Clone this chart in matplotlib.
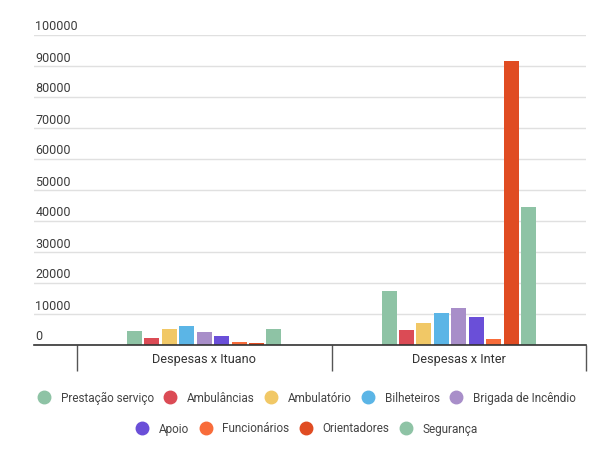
import matplotlib.pyplot as plt
import numpy as np
from matplotlib.lines import Line2D
import matplotlib.transforms as mtransforms

plt.rcParams['font.family'] = ['Roboto', 'DejaVu Sans']

categories = ['Despesas x Ituano', 'Despesas x Inter']
series = ['Prestação serviço', 'Ambulâncias', 'Ambulatório', 'Bilheteiros',
          'Brigada de Incêndio', 'Apoio', 'Funcionários', 'Orientadores', 'Segurança']
ituano = [4600, 2150, 5150, 6100, 4300, 3000, 1070, 650, 5250]
inter = [17500, 4700, 7000, 10200, 12000, 8900, 1900, 91700, 44600]
colors = ['#8ec3a5', '#db4b55', '#f1c866', '#5bb5e6', '#a88ec9',
          '#6a4fd8', '#f86c3a', '#e04c22', '#8ec3a5']
yticks = [0, 10000, 20000, 30000, 40000, 50000, 60000, 70000, 80000, 90000, 100000]

W, H = 614, 450
fig = plt.figure(figsize=(W / 100, H / 100), dpi=100)
ax = fig.add_axes([34 / W, 1 - 345 / H, (586 - 34) / W, (345 - 35) / H])

values = np.array([ituano, inter])
x = np.arange(len(categories))
slot = 0.0685
for i, name in enumerate(series):
    ax.bar(x + (i - 4) * slot, values[:, i], width=0.059, color=colors[i], zorder=3)

ax.set_ylim(0, 100000)
ax.set_xlim(-0.5 - 43 / 254.5, 1.5)

ax.set_yticks(yticks)
ax.set_yticklabels([str(v) for v in yticks])
ax.grid(axis='y', color='#e0e0e0', lw=1, zorder=0)
ax.tick_params(axis='y', length=0, pad=-1, labelsize=9, labelcolor='#3c3c3c')
offset = mtransforms.ScaledTranslation(0, 1.5 / 100, fig.dpi_scale_trans)
for lab in ax.get_yticklabels():
    lab.set_horizontalalignment('left')
    lab.set_verticalalignment('bottom')
    lab.set_transform(lab.get_transform() + offset)

for s in ['top', 'right', 'left']:
    ax.spines[s].set_visible(False)
ax.spines['bottom'].set_color('#333333')
ax.spines['bottom'].set_linewidth(1.2)
ax.spines['bottom'].set_zorder(4)

ax.set_xticks(x)
ax.set_xticklabels(categories)
ax.set_xticks([-0.5, 0.5, 1.5], minor=True)
ax.tick_params(axis='x', which='major', length=0, pad=6, labelsize=9.2, labelcolor='#333333')
ax.tick_params(axis='x', which='minor', length=19, width=1, color='#555555', direction='out')

def handles(names, cols):
    return [Line2D([], [], marker='o', linestyle='none', markersize=9,
                   markerfacecolor=c, markeredgecolor=c) for c in cols]

kw = dict(frameon=False, fontsize=8.5, labelcolor='#444444', handlelength=1,
          handletextpad=0.9, columnspacing=0.9, borderaxespad=0, loc='center')
fig.legend(handles(series[:5], colors[:5]), series[:5], ncol=5,
           bbox_to_anchor=(0.5, 1 - 398 / H), **kw)
fig.legend(handles(series[5:], colors[5:]), series[5:], ncol=4,
           bbox_to_anchor=(0.5, 1 - 429 / H), **kw)

fig.savefig('out.png', dpi=100, facecolor='white')
